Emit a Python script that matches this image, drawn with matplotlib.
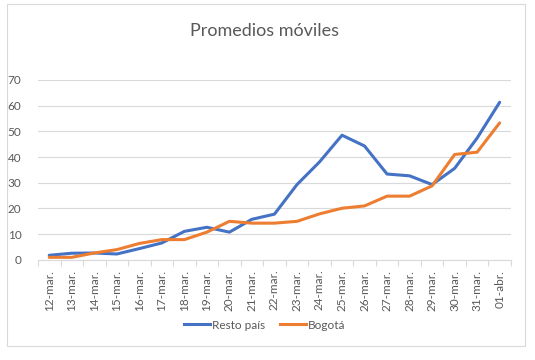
import matplotlib.pyplot as plt
from matplotlib.patches import Rectangle
from matplotlib.lines import Line2D

# Datos
fechas = ['12-mar.', '13-mar.', '14-mar.', '15-mar.', '16-mar.', '17-mar.', '18-mar.',
          '19-mar.', '20-mar.', '21-mar.', '22-mar.', '23-mar.', '24-mar.', '25-mar.',
          '26-mar.', '27-mar.', '28-mar.', '29-mar.', '30-mar.', '31-mar.', '01-abr.']
resto_pais = [1.8, 2.6, 2.7, 2.3, 4.4, 6.6, 11.1, 12.7, 10.8, 15.8, 17.8,
              29.3, 38.1, 48.5, 44.3, 33.4, 32.7, 29.3, 35.6, 47.4, 61.3]
bogota = [1.0, 1.0, 2.7, 4.0, 6.4, 7.9, 7.9, 10.8, 15.0, 14.3, 14.3,
          15.0, 17.9, 20.1, 21.0, 24.8, 24.8, 28.8, 41.0, 41.9, 53.3]

azul = '#4472C4'
naranja = '#ED7D31'
gris = '#D9D9D9'
texto = '#595959'

plt.rcParams['font.family'] = ['Lato', 'DejaVu Sans']

fig = plt.figure(figsize=(5.35, 3.6), dpi=100)
ax = fig.add_axes([0.071, 0.278, 0.884, 0.5])

x = range(len(fechas))
ax.plot(x, resto_pais, color=azul, lw=2.2, solid_capstyle='round', label='Resto país')
ax.plot(x, bogota, color=naranja, lw=2.2, solid_capstyle='round', label='Bogotá')

ax.set_xlim(-0.5, len(fechas) - 0.5)
ax.set_ylim(0, 70)
ax.set_yticks(range(0, 71, 10))
ax.grid(axis='y', color=gris, lw=0.8)
ax.set_axisbelow(True)

ax.set_xticks(list(x))
ax.set_xticklabels(fechas, rotation=90, fontsize=8.5, color=texto)
ax.set_xticks([i - 0.5 for i in range(len(fechas) + 1)], minor=True)
ax.tick_params(axis='x', which='major', length=0, pad=7)
ax.tick_params(axis='x', which='minor', length=4, color=gris, width=0.8)
ax.tick_params(axis='y', length=0, labelsize=8.5, labelcolor=texto, pad=12)

for s in ['top', 'right', 'left']:
    ax.spines[s].set_visible(False)
ax.spines['bottom'].set_color(gris)
ax.spines['bottom'].set_linewidth(0.8)

fig.text(0.495, 0.915, 'Promedios móviles', ha='center', va='center',
         fontsize=13, color=texto)

handles = [Line2D([], [], color=azul, lw=2.2), Line2D([], [], color=naranja, lw=2.2)]
fig.legend(handles, ['Resto país', 'Bogotá'], loc='center', bbox_to_anchor=(0.495, 0.097),
           ncol=2, frameon=False, fontsize=8.5, labelcolor=texto, handlelength=2.2,
           handletextpad=0.2, columnspacing=1.2)

fig.patches.append(Rectangle((0.013, 0.04), 0.968, 0.95, transform=fig.transFigure,
                             fill=False, edgecolor=gris, lw=0.8))

fig.savefig('out.png', dpi=100)
